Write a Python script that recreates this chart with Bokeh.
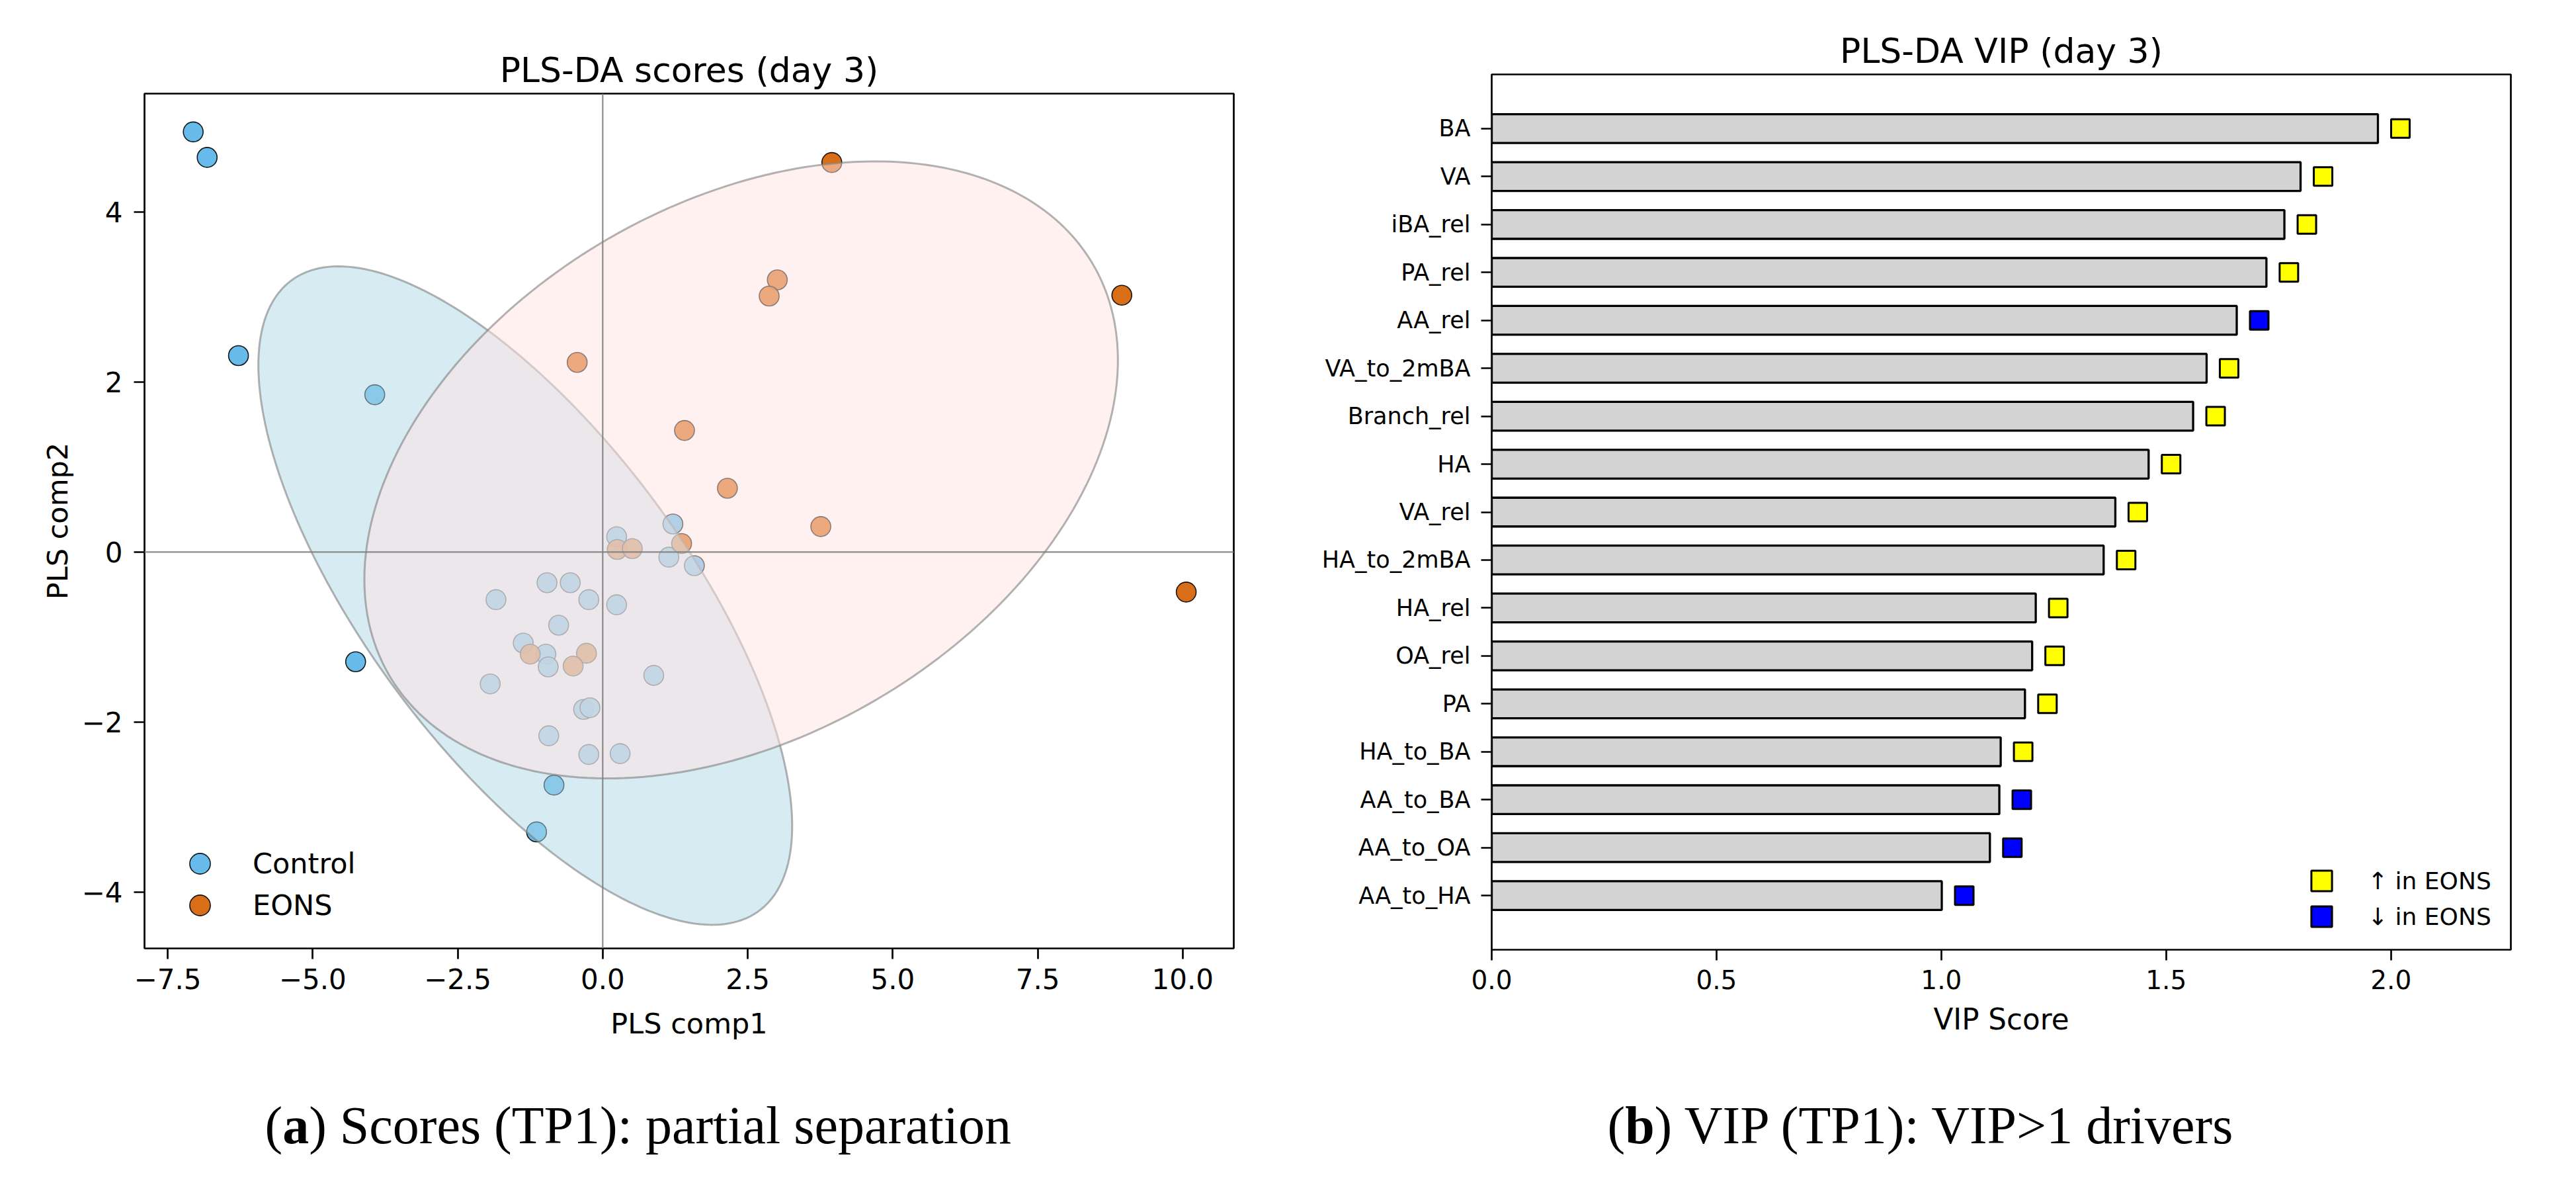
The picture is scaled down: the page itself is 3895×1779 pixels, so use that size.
import numpy as np
from bokeh.plotting import figure
from bokeh.models import Range1d, Span, FixedTicker, Legend, LegendItem, ColumnDataSource
from bokeh.layouts import column, row
from bokeh.embed import file_html
from bokeh.resources import INLINE
from bokeh.core.properties import value

# ---------------- data: PLS-DA scores ----------------
groups = ["Control", "EONS"]
control_x = [-7.06, -6.82, -6.28, -3.93, -4.26, -0.84, -1.14,
             1.21, 0.24, 1.14, 1.58, -0.96, -0.56, -1.84, -0.24, 0.24,
             -0.76, -1.37, -0.98, -0.94, -1.94, 0.88, -0.33, -0.22, -0.93,
             -0.24, 0.30]
control_y = [4.94, 4.64, 2.31, 1.85, -1.29, -2.74, -3.29,
             0.33, 0.18, -0.06, -0.16, -0.36, -0.36, -0.56, -0.56, -0.62,
             -0.86, -1.07, -1.20, -1.35, -1.55, -1.45, -1.85, -1.83, -2.16,
             -2.38, -2.37]
eons_x = [3.95, 8.95, 10.06, 3.01, 2.87, -0.44, 1.41, 2.15, 3.76, 1.36,
          0.25, 0.51, -1.25, -0.28, -0.51]
eons_y = [4.58, 3.02, -0.47, 3.20, 3.01, 2.23, 1.43, 0.75, 0.30, 0.10,
          0.03, 0.04, -1.20, -1.19, -1.34]
group_colors = ["#56B4E9", "#D55E00"]
ellipse_fills = ["#ADD8E6", "#FFE4E1"]

score_x_ticks = [-7.5, -5.0, -2.5, 0.0, 2.5, 5.0, 7.5, 10.0]
score_x_labels = ["\u22127.5", "\u22125.0", "\u22122.5", "0.0", "2.5", "5.0", "7.5", "10.0"]
score_y_ticks = [-4, -2, 0, 2, 4]
score_y_labels = ["\u22124", "\u22122", "0", "2", "4"]

# ---------------- data: VIP ----------------
features = ["BA", "VA", "iBA_rel", "PA_rel", "AA_rel", "VA_to_2mBA", "Branch_rel",
            "HA", "VA_rel", "HA_to_2mBA", "HA_rel", "OA_rel", "PA", "HA_to_BA",
            "AA_to_BA", "AA_to_OA", "AA_to_HA"]
vip_scores = [1.971, 1.799, 1.763, 1.723, 1.657, 1.590, 1.560, 1.461, 1.387,
              1.361, 1.210, 1.202, 1.186, 1.132, 1.129, 1.108, 1.001]
directions = ["up", "up", "up", "up", "down", "up", "up", "up", "up",
              "up", "up", "up", "up", "up", "down", "down", "down"]
direction_labels = {"up": "\u2191 in EONS", "down": "\u2193 in EONS"}
direction_colors = {"up": "#FFFF00", "down": "#0000FF"}
vip_x_ticks = [0.0, 0.5, 1.0, 1.5, 2.0]
vip_x_labels = ["0.0", "0.5", "1.0", "1.5", "2.0"]

captions = [("(", "a", ") Scores (TP1): partial separation"),
            ("(", "b", ") VIP (TP1): VIP>1 drivers")]

FONT = "DejaVu Sans"


def conf_ellipse(xs, ys, k=1.96, n=240):
    pts = np.vstack([xs, ys])
    mu = pts.mean(axis=1)
    cov = np.cov(pts)
    vals, vecs = np.linalg.eigh(cov)
    t = np.linspace(0, 2 * np.pi, n)
    circ = np.vstack([np.cos(t), np.sin(t)])
    e = vecs @ (np.sqrt(vals)[:, None] * circ) * k
    return mu[0] + e[0], mu[1] + e[1]


def style_axes(p, xsize, ysize, labelsize):
    for ax in (p.xaxis[0], p.yaxis[0]):
        ax.axis_line_color = None
        ax.major_tick_out = 16
        ax.major_tick_in = 0
        ax.major_tick_line_width = 2.7
        ax.minor_tick_line_color = None
        ax.major_label_text_font = FONT
        ax.axis_label_text_font = FONT
        ax.axis_label_text_font_style = "normal"
        ax.axis_label_text_font_size = labelsize
        ax.major_label_text_color = "black"
        ax.axis_label_text_color = "black"
    p.xaxis[0].major_label_text_font_size = xsize
    p.yaxis[0].major_label_text_font_size = ysize
    p.outline_line_color = "black"
    p.outline_line_width = 2.7
    p.outline_line_alpha = 1.0
    p.xgrid.visible = False
    p.ygrid.visible = False
    p.title.text_font = FONT
    p.title.text_font_style = "normal"
    p.title.text_font_size = "52px"
    p.title.text_color = "black"
    p.title.align = "center"
    p.title.standoff = 12


def single_legend(p, label, renderer, loc, standoff, fsize):
    leg = Legend(items=[LegendItem(label=label, renderers=[renderer])],
                 location=loc, padding=0, margin=0, spacing=0,
                 glyph_width=78, glyph_height=78, label_height=78,
                 label_standoff=standoff, label_text_font=FONT,
                 label_text_font_size=fsize, label_text_color="black",
                 border_line_color=None, background_fill_alpha=0)
    p.add_layout(leg)


# ---------------- left panel: scores ----------------
p1 = figure(frame_width=1647, frame_height=1292,
            x_range=Range1d(-7.90, 10.88), y_range=Range1d(-4.66, 5.39),
            title="PLS-DA scores (day 3)",
            output_backend="svg", toolbar_location=None, tools="",
            min_border_left=218, min_border_right=117,
            min_border_top=141, min_border_bottom=179)
style_axes(p1, "42px", "42px", "43px")
p1.xaxis.axis_label = "PLS comp1"
p1.yaxis.axis_label = "PLS comp2"
p1.xaxis.ticker = FixedTicker(ticks=score_x_ticks)
p1.yaxis.ticker = FixedTicker(ticks=score_y_ticks)
p1.xaxis.major_label_overrides = dict(zip(score_x_ticks, score_x_labels))
p1.yaxis.major_label_overrides = dict(zip(score_y_ticks, score_y_labels))
p1.xaxis.major_label_standoff = 14
p1.yaxis.major_label_standoff = 17
p1.xaxis.axis_label_standoff = 24
p1.yaxis.axis_label_standoff = 9

group_data = [(control_x, control_y), (eons_x, eons_y)]
score_renderers = []
for (gx, gy), col in zip(group_data, group_colors):
    r = p1.scatter(gx, gy, size=30, fill_color=col, fill_alpha=0.9,
                   line_color="black", line_alpha=0.9, line_width=1.6)
    score_renderers.append(r)

for (gx, gy), fc in zip(group_data, ellipse_fills):
    ex, ey = conf_ellipse(gx, gy)
    p1.patch(ex, ey, fill_color=fc, fill_alpha=0.5,
             line_color="gray", line_alpha=0.6, line_width=3)

p1.add_layout(Span(location=0, dimension="width", line_color="gray",
                   line_width=2.2, line_alpha=0.9))
p1.add_layout(Span(location=0, dimension="height", line_color="gray",
                   line_width=2.2, line_alpha=0.9))

single_legend(p1, groups[0], score_renderers[0], (45, 89), 41, "43px")
single_legend(p1, groups[1], score_renderers[1], (45, 26), 41, "43px")

# ---------------- right panel: VIP ----------------
n = len(features)
ypos = [n - 1 - i for i in range(n)]
p2 = figure(frame_width=1541, frame_height=1323,
            x_range=Range1d(0, max(vip_scores) * 1.15),
            y_range=Range1d(-1.13, n - 1 + 1.13),
            title="PLS-DA VIP (day 3)",
            output_backend="svg", toolbar_location=None, tools="",
            min_border_left=273, min_border_right=83,
            min_border_top=112, min_border_bottom=177)
style_axes(p2, "39px", "35px", "43.6px")
p2.xaxis.axis_label = "VIP Score"
p2.xaxis.ticker = FixedTicker(ticks=vip_x_ticks)
p2.xaxis.major_label_overrides = dict(zip(vip_x_ticks, vip_x_labels))
p2.yaxis.ticker = FixedTicker(ticks=ypos)
p2.yaxis.major_label_overrides = dict(zip(ypos, features))
p2.xaxis.major_label_standoff = 14
p2.yaxis.major_label_standoff = 16
p2.xaxis.axis_label_standoff = 18

bar_src = ColumnDataSource(dict(y=ypos, vip=vip_scores, feat=features))
p2.hbar(y="y", left=0, right="vip", height=0.6, source=bar_src,
        fill_color="#D3D3D3", line_color="black", line_width=3.3)

vip_renderers = []
for d in ["up", "down"]:
    sel = [i for i in range(n) if directions[i] == d]
    src = ColumnDataSource(dict(x=[vip_scores[i] + 0.05 for i in sel],
                                y=[ypos[i] for i in sel]))
    r = p2.scatter("x", "y", source=src, marker="square", size=28,
                   fill_color=direction_colors[d], line_color="black", line_width=3)
    vip_renderers.append((direction_labels[d], r))

single_legend(p2, vip_renderers[0][0], vip_renderers[0][1], (1216, 65), 31, "36px")
single_legend(p2, vip_renderers[1][0], vip_renderers[1][1], (1216, 11), 31, "36px")

# ---------------- captions ----------------
CAP_H = 151
cap = figure(width=3879, height=CAP_H, x_range=Range1d(0, 3879), y_range=Range1d(0, CAP_H),
             title=None, output_backend="svg", toolbar_location=None, tools="",
             x_axis_location=None, y_axis_location=None, min_border=0)
cap.outline_line_color = None
cap.xgrid.visible = False
cap.ygrid.visible = False
cap_starts = [400, 2430]
SERIF = "Liberation Serif"
CAP_SIZE = 80
CAP_BASE = 63
for (pre, bold, rest), x0 in zip(captions, cap_starts):
    pw = 0.333 * CAP_SIZE
    bw = (0.5 if bold == "a" else 0.556) * CAP_SIZE
    cap.text(x=[x0], y=[CAP_BASE], text=[pre], text_font=value(SERIF),
             text_font_size=f"{CAP_SIZE}px",
             text_baseline="alphabetic", text_align="left", text_color="black")
    cap.text(x=[x0], y=[CAP_BASE], text=[bold], x_offset=pw, text_font=value(SERIF),
             text_font_size=f"{CAP_SIZE}px", text_font_style="bold",
             text_baseline="alphabetic", text_align="left", text_color="black")
    cap.text(x=[x0], y=[CAP_BASE], text=[rest], x_offset=pw + bw, text_font=value(SERIF),
             text_font_size=f"{CAP_SIZE}px", text_baseline="alphabetic", text_align="left",
             text_color="black")

layout = column(row(column(p1), column(p2), spacing=0), cap, spacing=0)
open("out.html", "w").write(file_html(layout, INLINE))
